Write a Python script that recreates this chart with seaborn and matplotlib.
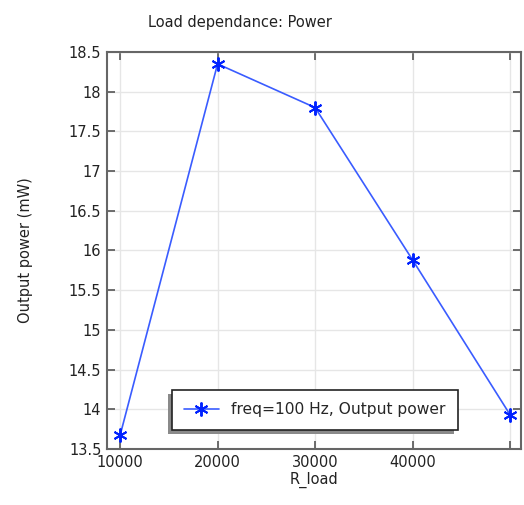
import pandas as pd
import matplotlib
matplotlib.use("Agg")
import matplotlib.pyplot as plt
from matplotlib.patches import Rectangle
from matplotlib.transforms import IdentityTransform
import seaborn as sns

r_load = [10000, 20000, 30000, 40000, 50000]
power_mw = [13.67, 18.35, 17.80, 15.88, 13.93]
series_label = "freq=100 Hz, Output power"

df = pd.DataFrame({"R_load": r_load, "power": power_mw})

sns.set_style("whitegrid")
plt.rcParams["font.family"] = ["DejaVu Sans"]

fig = plt.figure(figsize=(5.24, 5.05), dpi=100)
ax = fig.add_axes([0.204, 0.111, 0.790, 0.786])

sns.lineplot(data=df, x="R_load", y="power", ax=ax, color="#3a5cff", linewidth=1.2,
             marker=(6, 2, 0), markersize=10, markeredgewidth=1.4,
             markeredgecolor="#0022ff", label=series_label)

ax.set_xlim(8650, 51100)
ax.set_ylim(13.5, 18.5)
ax.set_xticks(r_load)
ax.set_xticklabels(["10000", "20000", "30000", "40000", ""])
ax.set_yticks([13.5, 14, 14.5, 15, 15.5, 16, 16.5, 17, 17.5, 18, 18.5])
ax.set_yticklabels(["13.5", "14", "14.5", "15", "15.5", "16", "16.5", "17", "17.5", "18", "18.5"])

ax.grid(True, color="#e6e6e6", linewidth=1.0)
for s in ax.spines.values():
    s.set_color("#666666")
    s.set_linewidth(1.5)
ax.tick_params(direction="in", length=6, width=1.2, color="#555555",
               top=True, right=True, bottom=True, left=True,
               labelsize=10.5, labelcolor="#222222", pad=4)

ax.set_xlabel("R_load", fontsize=10.5, color="#222222", labelpad=2)
ax.set_ylabel("Output power (mW)", fontsize=10.5, color="#222222", labelpad=26)
fig.text(240 / 524, 1 - 22 / 505, "Load dependance: Power", ha="center", va="center",
         fontsize=10.5, color="#222222")

leg = ax.legend(loc="lower left", bbox_to_anchor=(0.157, 0.048), borderaxespad=0,
                frameon=True, fancybox=False, shadow=False, fontsize=11.2,
                handlelength=2.2, borderpad=0.8, framealpha=1, facecolor="white")
leg.get_frame().set_edgecolor("#222222")
leg.get_frame().set_linewidth(1.2)

# shadow offset down-left, like the original
fig.canvas.draw()
bb = leg.get_window_extent()
ax.add_patch(Rectangle((bb.x0 - 4, bb.y0 - 4), bb.width, bb.height,
                       transform=IdentityTransform(), facecolor="#8a8a8a",
                       edgecolor="none", zorder=4.9, clip_on=False))

fig.savefig("out.png", dpi=100)
